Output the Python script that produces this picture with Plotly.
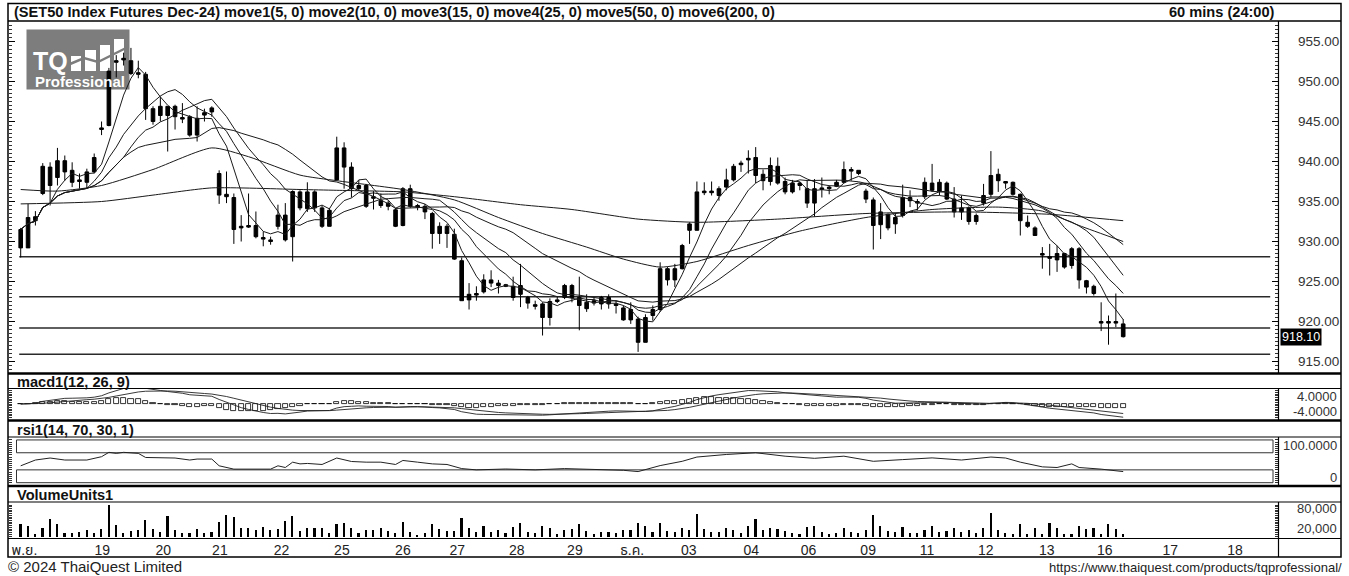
import numpy as np
import pandas as pd
import plotly.graph_objects as go

W, H = 1349, 576
FONT = "Arial, 'Liberation Sans', 'Noto Sans Thai', 'Noto Sans', sans-serif"

# ---------------- data ----------------
opens = [929.2, 929.2, 932.6, 936.0, 939.3, 938.0, 940.1, 938.9, 937.7, 937.4,
         938.7, 944.0, 944.5, 952.4, 952.7, 952.6, 951.1, 950.9, 946.6, 945.75,
         946.9, 945.6, 945.5, 945.6, 943.3, 945.8, 946.2, 938.5, 935.9, 935.5,
         931.7, 931.8, 932.0, 930.5, 930.2, 931.9, 933.3, 930.6, 936.2, 934.1,
         936.2, 934.2, 931.9, 937.7, 941.7, 939.3, 936.6, 937.0, 935.4, 935.1,
         934.8, 933.96, 932.0, 936.6, 934.5, 934.4, 933.5, 931.0, 931.9, 930.9,
         927.6, 922.7, 923.3, 923.7, 925.2, 924.8, 924.6, 924.4, 923.4, 923.0,
         922.1, 922.2, 920.5, 922.5, 923.0, 924.5, 923.0, 922.4, 922.3, 922.2,
         923.0, 922.2, 921.7, 921.5, 920.3, 917.4, 920.75, 921.5, 926.6, 925.2,
         926.6, 931.4, 931.4, 936.1, 936.3, 935.75, 936.8, 937.7, 939.6, 940.2,
         940.5, 938.4, 937.5, 939.4, 937.5, 936.2, 937.3, 936.6, 934.8, 936.5,
         936.6, 936.9, 937.4, 938.8, 938.9, 936.3, 935.2, 932.1, 933.4, 932.2,
         933.25, 935.5, 935.0, 935.6, 937.3, 936.3, 937.3, 935.3, 933.7, 934.2,
         932.5, 934.8, 935.9, 938.4, 937.5, 937.4, 935.9, 932.4, 931.7, 928.5,
         928.1, 927.7, 928.5, 927.0, 929.1, 925.1, 924.4, 920.0, 919.8, 920.0,
         919.7]
highs = [931.7, 934.7, 933.8, 939.8, 939.9, 941.7, 940.75, 939.9, 938.5, 939.1,
         941.0, 945.0, 951.7, 953.3, 953.6, 954.2, 952.6, 951.2, 946.9, 948.1,
         946.9, 947.1, 947.3, 945.8, 946.9, 946.6, 946.9, 938.9, 938.75, 936.0,
         933.3, 936.0, 933.75, 931.25, 930.6, 934.6, 934.8, 936.4, 936.4, 937.4,
         936.4, 934.5, 934.2, 943.1, 942.4, 939.9, 937.7, 937.2, 936.3, 936.0,
         935.1, 934.2, 936.8, 937.1, 934.7, 934.7, 933.7, 932.4, 932.2, 931.6,
         928.0, 924.8, 924.4, 925.9, 926.4, 925.2, 924.7, 925.6, 927.2, 923.2,
         922.6, 922.4, 922.9, 923.1, 924.7, 924.7, 925.6, 923.4, 923.0, 923.2,
         923.4, 922.6, 922.0, 922.4, 920.6, 920.9, 922.0, 927.4, 926.8, 927.2,
         929.7, 932.4, 937.5, 937.4, 937.5, 936.9, 939.1, 939.7, 940.1, 941.4,
         941.8, 939.0, 940.5, 940.5, 938.0, 937.7, 937.5, 937.7, 937.8, 938.0,
         937.0, 937.7, 940.0, 939.3, 938.9, 936.6, 935.5, 934.8, 933.5, 933.5,
         937.1, 936.4, 935.3, 938.0, 939.7, 937.8, 937.5, 936.8, 935.75, 934.4,
         933.5, 937.2, 941.3, 939.1, 937.5, 937.5, 936.0, 933.25, 931.9, 929.3,
         929.7, 929.5, 928.6, 929.3, 929.3, 925.2, 924.6, 922.4, 920.75, 923.5,
         920.3]
lows = [928.0, 929.2, 932.0, 935.8, 934.5, 937.0, 937.6, 936.8, 936.6, 936.6,
        938.5, 943.3, 944.4, 950.5, 952.0, 950.8, 950.4, 945.2, 944.6, 945.0,
        941.25, 944.0, 944.8, 943.1, 942.5, 945.0, 945.6, 934.7, 934.8, 929.7,
        930.0, 931.7, 930.4, 929.4, 929.6, 931.5, 930.0, 927.5, 933.9, 933.7,
        933.7, 931.7, 931.9, 937.6, 936.6, 935.5, 936.4, 934.2, 934.0, 934.2,
        933.9, 931.8, 931.9, 934.2, 933.9, 932.8, 929.1, 929.7, 929.2, 927.7,
        922.6, 921.5, 922.6, 923.5, 924.3, 923.5, 924.3, 922.6, 921.8, 921.6,
        921.5, 918.25, 919.5, 922.3, 922.8, 922.4, 918.9, 921.2, 922.0, 921.5,
        921.6, 921.0, 920.1, 919.7, 916.2, 917.4, 920.1, 921.2, 924.5, 924.3,
        926.5, 929.7, 931.4, 935.8, 935.75, 935.1, 936.4, 937.5, 938.7, 938.5,
        937.3, 936.4, 937.0, 937.1, 935.9, 936.0, 936.4, 934.2, 933.1, 935.5,
        935.9, 936.8, 937.3, 937.6, 938.3, 934.8, 929.0, 930.3, 931.4, 930.96,
        933.0, 934.3, 933.9, 935.3, 936.2, 935.75, 935.2, 933.0, 932.7, 932.1,
        932.1, 934.5, 935.5, 936.2, 936.6, 935.75, 930.75, 931.7, 930.75, 926.6,
        925.75, 926.2, 926.6, 926.6, 924.1, 923.5, 923.25, 918.8, 917.1, 919.3,
        918.0]
closes = [931.5, 933.0, 933.1, 939.4, 937.0, 940.1, 938.7, 937.4, 937.5, 938.7,
          940.5, 944.2, 951.3, 952.6, 952.9, 951.0, 950.9, 946.6, 945.0, 946.9,
          945.75, 946.9, 945.3, 943.3, 945.4, 946.1, 946.7, 935.8, 935.6, 931.5,
          931.9, 932.0, 930.6, 930.3, 930.0, 933.3, 930.2, 936.25, 934.2, 936.2,
          934.2, 931.9, 933.9, 941.7, 939.3, 936.6, 937.0, 934.4, 935.6, 934.5,
          934.4, 931.9, 936.6, 934.4, 934.3, 933.7, 931.0, 931.9, 931.0, 927.8,
          922.6, 923.4, 923.5, 925.2, 924.8, 924.5, 924.4, 923.0, 924.5, 922.3,
          921.9, 920.5, 922.5, 922.7, 924.5, 923.0, 922.0, 921.6, 922.6, 923.0,
          922.2, 922.0, 920.2, 920.2, 917.4, 920.5, 921.5, 926.6, 925.2, 926.6,
          929.5, 932.2, 936.2, 936.3, 936.1, 936.6, 937.7, 939.4, 939.8, 940.4,
          938.25, 937.6, 939.5, 937.3, 936.2, 937.3, 937.0, 934.8, 936.6, 936.7,
          936.8, 937.4, 939.0, 939.0, 938.5, 935.3, 932.0, 933.7, 931.7, 933.0,
          935.5, 935.1, 934.8, 937.4, 936.4, 937.4, 935.3, 933.7, 934.2, 932.5,
          933.25, 935.75, 938.25, 937.6, 937.3, 935.9, 932.6, 931.9, 930.75, 928.3,
          927.9, 928.5, 926.8, 929.1, 925.2, 924.3, 923.5, 919.8, 920.0, 919.8,
          918.1]
volumes = [35200, 30600, 8600, 25700, 49500, 35200, 9400, 9400, 13400, 19200,
           11400, 20900, 90700, 32300, 9400, 16300, 18000, 46600, 20900, 14300,
           59200, 18000, 9400, 11400, 22900, 11400, 13400, 42900, 63800, 57200,
           25700, 23700, 18000, 27700, 18000, 20900, 44900, 60900, 16300, 23700,
           23700, 25700, 9400, 35200, 40000, 25700, 9400, 18000, 19200, 25700,
           16300, 11400, 42900, 14300, 4900, 11400, 35200, 20900, 16300, 15000,
           55000, 25000, 14000, 30000, 12000, 20000, 9000, 28000, 40000, 12000,
           9000, 30000, 25000, 8000, 20000, 22000, 35000, 15000, 8000, 12000,
           14000, 9000, 20000, 18000, 40000, 30000, 12000, 38000, 15000, 14000,
           25000, 20000, 65000, 22000, 12000, 14000, 25000, 20000, 9000, 30000,
           50000, 20000, 25000, 22000, 15000, 10000, 8000, 28000, 30000, 12000,
           8000, 9000, 25000, 12000, 10000, 20000, 62000, 30000, 15000, 12000,
           28000, 10000, 9000, 20000, 30000, 12000, 15000, 25000, 12000, 18000,
           10000, 25000, 68000, 20000, 11400, 6600, 35200, 6600, 25700, 6600,
           40000, 25700, 6600, 6600, 30600, 20900, 25700, 6600, 37200, 20900,
           8600]

# slow averages at a few bars
ma50_bar = [0, 5, 11, 18, 26, 31, 38, 43, 52, 59, 65, 71, 77, 82, 87, 92, 99,
            106, 115, 124, 133, 139, 144, 150]
ma50_val = [936.5, 936.3, 937.0, 939.0, 941.7, 940.6, 938.3, 937.6, 936.5,
            935.2, 933.0, 931.0, 929.3, 927.8, 926.8, 927.5, 929.5, 931.3,
            933.0, 934.0, 934.3, 933.8, 932.0, 930.0]
ma200_bar = [0, 11, 18, 26, 38, 43, 52, 59, 68, 75, 84, 92, 103, 115, 128, 140, 150]
ma200_val = [934.7, 935.0, 935.8, 936.7, 936.5, 936.4, 936.2, 935.6, 934.6,
             934.0, 932.8, 932.4, 932.8, 933.5, 933.7, 933.4, 932.6]

# RSI line
rsi_bar = [0, 2, 4, 6, 9, 11, 12, 13, 14, 16, 17, 19, 21, 23, 24, 26, 27, 29,
           32, 34, 35, 36, 37, 38, 39, 41, 43, 45, 47, 49, 51, 52, 54, 56, 58,
           60, 62, 66, 70, 74, 78, 82, 84, 87, 90, 92, 96, 100, 104, 108, 112,
           116, 120, 124, 128, 132, 134, 136, 139, 141, 143, 144, 147, 150]
rsi_val = [39.5, 53, 57.7, 53, 53, 60.8, 71, 68.6, 71, 68.6, 59, 57.7, 57.7,
           53, 55.3, 55.3, 39.5, 31.7, 31.7, 31.7, 39.5, 35.5, 48, 44, 45, 42.6,
           57.7, 49.6, 48, 48, 42.6, 52, 48, 44, 42.6, 33, 30, 32, 30, 33, 31,
           29, 26, 40, 50, 60, 66, 70, 62, 57, 62, 50, 54, 58, 53, 60, 57.7,
           48, 37, 35.5, 44, 35.5, 31.7, 26]

support_levels = [928.1, 923.1, 919.2, 915.9]
price_ticks = [915, 920, 925, 930, 935, 940, 945, 950, 955]
date_labels = ["พ.ย.", "19", "20", "21", "22", "25", "26", "27", "28", "29",
               "ธ.ค.", "03", "04", "06", "09", "11", "12", "13", "16", "17", "18"]
date_pos = [0.5, 11.1, 19.4, 27.1, 35.5, 43.7, 52.0, 59.4, 67.5, 75.4, 83.2,
            90.9, 99.4, 107.2, 115.3, 123.3, 131.3, 139.6, 147.5, 156.4, 165.2]

title_text = ("(SET50 Index Futures Dec-24) move1(5, 0) move2(10, 0) move3(15, 0) "
              "move4(25, 0) move5(50, 0) move6(200, 0)")

# ---------------- derived series ----------------
n = len(closes)
bars = np.arange(n)
highs = np.maximum.reduce([highs, opens, closes])
lows = np.minimum.reduce([lows, opens, closes])
cs = pd.Series(closes)
fast_ma = {p: cs.rolling(p, min_periods=1).mean() for p in (5, 10, 15, 25)}
ema12 = cs.ewm(span=12, adjust=False).mean()
ema26 = cs.ewm(span=26, adjust=False).mean()
macd = ema12 - ema26
signal = macd.ewm(span=9, adjust=False).mean()
hist = macd - signal

# ---------------- geometry helpers ----------------
def fx(px):
    return px / W

def fy(py):
    return 1 - py / H

BAR_PX = 7.35
X0_PX = 20.7
PLOT_L, PLOT_R = 9, 1278
xr = [(PLOT_L - X0_PX) / BAR_PX, (PLOT_R - X0_PX) / BAR_PX]

fig = go.Figure()

# candles
fig.add_trace(go.Candlestick(
    x=bars, open=opens, high=highs, low=lows, close=closes,
    increasing=dict(line=dict(color="black", width=1), fillcolor="black"),
    decreasing=dict(line=dict(color="black", width=1), fillcolor="black"),
    whiskerwidth=0, hoverinfo="skip", xaxis="x", yaxis="y"))

for p in (5, 10, 15, 25):
    fig.add_trace(go.Scatter(x=bars, y=fast_ma[p], mode="lines",
                             line=dict(color="#1a1a1a", width=1),
                             hoverinfo="skip", xaxis="x", yaxis="y"))
fig.add_trace(go.Scatter(x=ma50_bar, y=ma50_val, mode="lines",
                         line=dict(color="#1a1a1a", width=1, shape="spline", smoothing=0.6),
                         hoverinfo="skip", xaxis="x", yaxis="y"))
fig.add_trace(go.Scatter(x=ma200_bar, y=ma200_val, mode="lines",
                         line=dict(color="#1a1a1a", width=1, shape="spline", smoothing=0.6),
                         hoverinfo="skip", xaxis="x", yaxis="y"))

# MACD
fig.add_trace(go.Bar(x=bars, y=hist, width=0.7, marker=dict(color="white",
                     line=dict(color="black", width=0.8)),
                     hoverinfo="skip", xaxis="x", yaxis="y2"))
fig.add_trace(go.Scatter(x=bars, y=macd, mode="lines", line=dict(color="#222", width=0.9),
                         hoverinfo="skip", xaxis="x", yaxis="y2"))
fig.add_trace(go.Scatter(x=bars, y=signal, mode="lines", line=dict(color="#222", width=0.9),
                         hoverinfo="skip", xaxis="x", yaxis="y2"))

# RSI
fig.add_trace(go.Scatter(x=rsi_bar, y=rsi_val, mode="lines", line=dict(color="#222", width=1),
                         hoverinfo="skip", xaxis="x", yaxis="y3"))

# Volume
fig.add_trace(go.Bar(x=bars, y=volumes, width=0.22, marker=dict(color="black", line=dict(width=0)),
                     hoverinfo="skip", xaxis="x", yaxis="y4"))

shapes = []

def hline(py, x0=8, x1=1341, w=1.2, color="black"):
    shapes.append(dict(type="line", xref="paper", yref="paper", x0=fx(x0), x1=fx(x1),
                       y0=fy(py), y1=fy(py), line=dict(color=color, width=w)))

def vline(px, y0, y1, w=1.2, color="black"):
    shapes.append(dict(type="line", xref="paper", yref="paper", x0=fx(px), x1=fx(px),
                       y0=fy(y0), y1=fy(y1), line=dict(color=color, width=w)))

# support lines
for lv in support_levels:
    shapes.append(dict(type="line", xref="x", yref="y", x0=-0.2, x1=170, y0=lv, y1=lv,
                       line=dict(color="#2a2a2a", width=1.5), layer="below"))
# RSI zones
for lo, hi in ((70, 100), (0, 30)):
    shapes.append(dict(type="rect", xref="paper", yref="y3", x0=fx(16.5), x1=fx(1273),
                       y0=lo, y1=hi, line=dict(color="#333", width=1), layer="below"))

# logo
shapes.append(dict(type="rect", xref="paper", yref="paper", x0=fx(26.5), x1=fx(129.5),
                   y0=fy(89.5), y1=fy(29.5), fillcolor="#7d7d7d", line=dict(width=0), layer="below"))
for bx0, bx1, by0 in ((71, 81, 56), (85, 96, 50), (100, 110, 45), (114, 124, 39)):
    shapes.append(dict(type="rect", xref="paper", yref="paper", x0=fx(bx0), x1=fx(bx1),
                       y0=fy(71), y1=fy(by0), fillcolor="white", line=dict(width=0), layer="below"))
shapes.append(dict(type="path", xref="paper", yref="paper",
                   path=f"M {fx(70)},{fy(64)} L {fx(84)},{fy(58)} L {fx(98)},{fy(62)} L {fx(126)},{fy(48)}",
                   line=dict(color="#7d7d7d", width=2.5), layer="below"))

# frame and separators
shapes.append(dict(type="rect", xref="paper", yref="paper", x0=fx(8), x1=fx(1341),
                   y0=fy(557), y1=fy(3.5), line=dict(color="black", width=1.5)))
hline(21, w=1.5)
hline(373.5, w=2.5)
hline(388.5, w=1.2)
hline(420.5, w=2.5)
hline(437, w=1.2)
hline(486, w=2.5)
hline(502, w=1.2)
hline(538.5, w=1.2)
vline(1278.5, 21, 373)
vline(1278.5, 388.5, 420)
vline(1278.5, 437, 486)
vline(1278.5, 502, 557)

annotations = []

def text(px, py, s, size=13, bold=False, anchor="left", color="#111", **kw):
    annotations.append(dict(xref="paper", yref="paper", x=fx(px), y=fy(py),
                            text=f"<b>{s}</b>" if bold else s, showarrow=False,
                            xanchor=anchor, yanchor="middle",
                            font=dict(family=FONT, size=size, color=color), **kw))

text(12, 12.5, title_text, size=14.6, bold=True)
text(1222, 12.5, "60 mins (24:00)", size=14.6, bold=True, anchor="center")
text(15, 382, "macd1(12, 26, 9)", size=14.6, bold=True)
text(15, 430, "rsi1(14, 70, 30, 1)", size=14.6, bold=True)
text(15, 494.5, "VolumeUnits1", size=14.6, bold=True)
text(1339, 396, "4.0000", size=13, anchor="right", color="#333")
text(1339, 411, "-4.0000", size=13, anchor="right", color="#333")
text(1339, 445, "100.0000", size=13, anchor="right", color="#333")
text(1339, 477, "0", size=13, anchor="right", color="#333")
text(1339, 508, "80,000", size=13, anchor="right", color="#333")
text(1339, 528, "20,000", size=13, anchor="right", color="#333")
text(6, 566, "© 2024 ThaiQuest Limited", size=15, color="#222")
text(1344, 567, "https://www.thaiquest.com/products/tqprofessional/", size=13,
     anchor="right", color="#222")
text(31, 61, "TQ", size=25, bold=True, color="white")
text(33, 81.5, "Professional", size=15, bold=True, color="white")
annotations.append(dict(xref="paper", yref="y", x=fx(1280), y=closes[-1],
                        text=f"{closes[-1]:.2f}", showarrow=False, xanchor="left",
                        yanchor="middle", bgcolor="black", borderpad=1,
                        font=dict(family=FONT, size=12.5, color="white")))

ax_common = dict(showgrid=False, zeroline=False, showline=False, anchor="x", side="right")

fig.update_layout(
    width=W, height=H, margin=dict(l=0, r=0, t=0, b=0),
    paper_bgcolor="white", plot_bgcolor="white", showlegend=False,
    boxgap=0.3, bargap=0, barmode="overlay",
    font=dict(family=FONT, color="#222"),
    xaxis=dict(domain=[fx(PLOT_L), fx(PLOT_R)], range=xr, anchor="free",
               position=fy(539), showgrid=False, zeroline=False, showline=False,
               rangeslider=dict(visible=False), ticks="",
               tickmode="array", tickvals=date_pos, ticktext=date_labels,
               tickfont=dict(family=FONT, size=14, color="#222"), ticklabelstandoff=1),
    yaxis=dict(domain=[fy(372.5), fy(21.5)], range=[913.625, 957.5], **ax_common,
               tickmode="array", tickvals=price_ticks,
               ticktext=[f"{v:.2f}" for v in price_ticks],
               ticks="inside", ticklen=6, tickcolor="black", tickwidth=1,
               minor=dict(ticks="inside", ticklen=3, dtick=0.5, tickcolor="#333", tickwidth=1),
               mirror="ticks", ticklabelstandoff=19,
               tickfont=dict(family=FONT, size=13.5, color="#333")),
    yaxis2=dict(domain=[fy(419), fy(389)], range=[-4.5, 4.5], **ax_common,
                dtick=0.5, ticks="inside", ticklen=3, tickcolor="#333", mirror="ticks",
                showticklabels=False),
    yaxis3=dict(domain=[fy(485), fy(437.5)], range=[-5.4, 105.7], **ax_common,
                dtick=5, ticks="inside", ticklen=3, tickcolor="#333", mirror="ticks",
                showticklabels=False),
    yaxis4=dict(domain=[fy(538), fy(502.5)], range=[-5720, 97240], **ax_common,
                dtick=5000, ticks="inside", ticklen=3, tickcolor="#333", mirror="ticks",
                showticklabels=False),
    shapes=shapes, annotations=annotations,
)

fig.write_html("out.html", config={"displayModeBar": False},
               post_script="document.body.style.margin='0';")
